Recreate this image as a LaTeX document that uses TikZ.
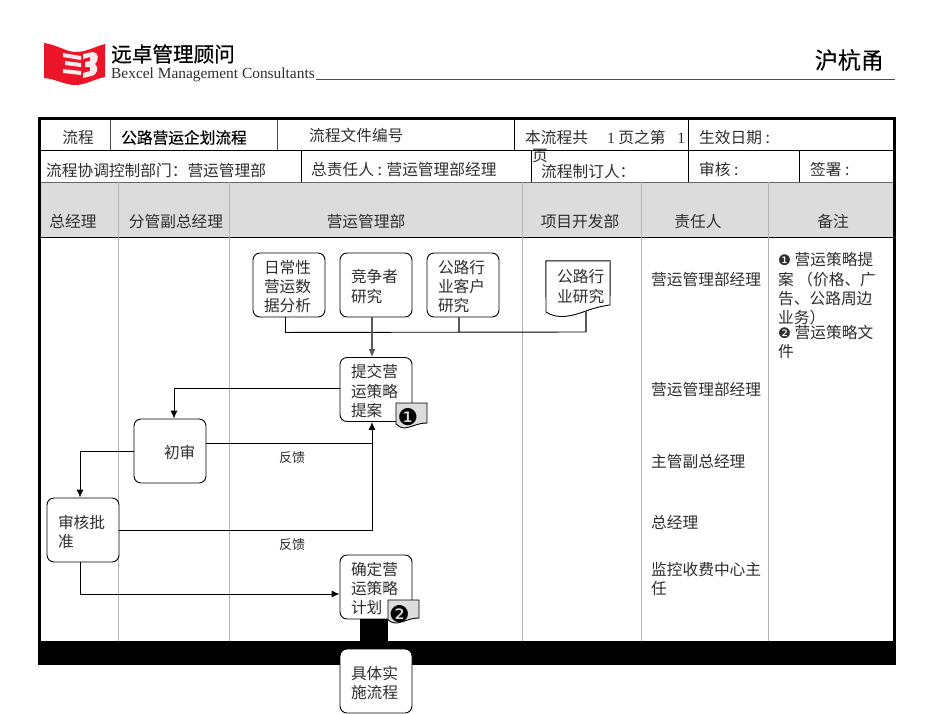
\documentclass[tikz,border=0pt]{standalone}
\usepackage{fontspec}
\setmainfont{Noto Sans CJK SC}
\newfontfamily\latinfont{Liberation Serif}
\newfontfamily\symfont{DejaVu Sans}
\newfontfamily\cnheavy[FakeBold=0.35]{Noto Sans CJK SC}
\newfontfamily\cnlogo[FakeBold=0.6]{Noto Sans CJK SC}
\newfontfamily\cnmedium[FakeBold=0.15]{Noto Sans CJK SC}
\usepackage{tikz}
\usetikzlibrary{calc,positioning,arrows.meta}
\definecolor{headgray}{HTML}{DCDCDC}
\definecolor{rulegray}{HTML}{B4B4B4}
\definecolor{inkgray}{HTML}{2E2E2E}
\definecolor{logored}{HTML}{EB1428}
\newcommand{\cnsize}{\fontsize{15.7}{19.3}\selectfont}
\tikzset{
    >={Latex[length=8pt,width=7pt]},
    cell/.style={
        inner sep=0pt,
        anchor=west,
        yshift=-0.5pt,
        text=inkgray,
        font=\cnsize
    },
    cellmid/.style={
        cell,
        anchor=center
    },
    flowbox/.style={
        rectangle,
        rounded corners=7pt,
        draw=black,
        fill=white,
        line width=0.9pt,
        minimum width=72pt,
        minimum height=64pt,
        inner xsep=9pt,
        inner ysep=0pt,
        text width=54pt,
        align=left,
        text=inkgray,
        font=\cnsize,
        execute at begin node=\rule{0pt}{16.6pt}\hspace{2pt}
    },
    flow/.style={draw=black, line width=0.9pt},
    flowgray/.style={draw=black!65, line width=1.1pt},
    column/.style={draw=rulegray, line width=0.9pt},
    rowline/.style={draw=black, line width=0.9pt},
    badge/.style={inner sep=0pt, font=\symfont\fontsize{23}{23}\selectfont}
}

\begin{document}
\begin{tikzpicture}[x=1pt,y=-1pt]
    \useasboundingbox (0,0) rectangle (950,713);
    \fill[white] (0,0) rectangle (950,713);

    % logo
    \fill[logored] (44,43) .. controls (58,45) and (66,52) .. (76,52)
        .. controls (86,52) and (94,47) .. (105,44) -- (105,77)
        .. controls (94,79) and (86,85) .. (75,85)
        .. controls (65,85) and (56,79) .. (44,78) -- cycle;
    \fill[white!92!red] (63,53) -- (81,56) -- (81,60) -- (63,57) -- cycle;
    \fill[white!92!red] (65,61) -- (81,63) -- (81,67) -- (65,65) -- cycle;
    \fill[white!92!red] (63,69) -- (81,71) -- (81,75) -- (63,73) -- cycle;
    \fill[white!92!red] (83,54) -- (93,52) .. controls (99,52) and (99,61) .. (95,64)
        .. controls (99,67) and (98,75) .. (91,76) -- (83,78) -- (83,73)
        -- (90,71) -- (90,67) -- (85,67) -- (85,62) -- (90,61) -- (90,57) -- (83,59) -- cycle;
    \node[inner sep=0pt,anchor=west,font=\cnlogo\fontsize{20.6}{21}\selectfont] (logocn) at (111,54) {远卓管理顾问};
    \node[inner sep=0pt,anchor=west,text=inkgray,font=\latinfont\fontsize{15.4}{16}\selectfont] (logoen) at (111,75) {Bexcel Management Consultants};
    \node[inner sep=0pt,anchor=east,font=\cnmedium\fontsize{23}{24}\selectfont] (route) at (884,60) {沪杭甬};
    \draw[draw=black!70,line width=1pt] (316,79) -- (895,79);

    % table head
    \fill[headgray] (40,182) rectangle (894,237);
    \draw[rowline] (40,150.5) -- (894,150.5);
    \draw[draw=black!60,line width=1pt] (40,182) -- (894,182);
    \draw[rowline] (40,237) -- (894,237);
    \draw[draw=black!70,line width=0.9pt] (110,119) -- (110,150);
    \draw[draw=black!70,line width=0.9pt] (277,119) -- (277,150);
    \draw[rowline] (514,119) -- (514,150);
    \draw[rowline] (688,119) -- (688,182);
    \draw[rowline] (301,150) -- (301,182);
    \draw[rowline] (531,150) -- (531,182);
    \draw[rowline] (799,150) -- (799,182);
    \draw[column] (118.5,182) -- (118.5,641);
    \draw[column] (229.5,182) -- (229.5,641);
    \draw[column] (522.5,182) -- (522.5,641);
    \draw[column] (641.5,182) -- (641.5,641);
    \draw[column] (768.5,182) -- (768.5,641);

    \node[cellmid] (tproc) at (78,137) {流程};
    \node[cell,text=black,font=\cnheavy\cnsize] (tname) at (121,137) {公路营运企划流程};
    \node[cell] (tfile) at (309,135) {流程文件编号};
    \node[cell] (tpage) at (525,137) {本流程共\hspace{19pt}{\latinfont 1} 页之第\hspace{12pt}{\latinfont 1}};
    \node[cell] (tdate) at (699,137) {生效日期 :};
    \node[cell] (tdept) at (46,170) {流程协调控制部门：营运管理部};
    \node[cell] (towner) at (311,169) {总责任人 : 营运管理部经理};
    \node[cell] (tpageb) at (532,155) {页};
    \node[cell] (tmaker) at (541,171) {流程制订人：};
    \node[cell] (tcheck) at (699,169) {审核 :};
    \node[cell] (tsign) at (810,169) {签署 :};

    \node[cellmid] (hgm) at (73,221) {总经理};
    \node[cellmid] (hvp) at (176,221) {分管副总经理};
    \node[cellmid] (hops) at (366,221) {营运管理部};
    \node[cellmid] (hdev) at (580,221) {项目开发部};
    \node[cellmid] (hduty) at (698,221) {责任人};
    \node[cellmid] (hnote) at (833,221) {备注};

    % flow boxes
    \node[flowbox] (daily) at (289,285) {日常性\\\hspace*{2pt}营运数\\\hspace*{2pt}据分析};
    \node[flowbox] (rival) at (376,285) {竞争者\\\hspace*{2pt}研究};
    \node[flowbox] (client) at (463,285) {公路行\\\hspace*{2pt}业客户\\\hspace*{2pt}研究};
    \node[inner sep=0pt,minimum width=64pt,minimum height=56pt] (study) at (578,289) {};
    \node[flowbox] (submit) at (376,389.5) {提交营\\\hspace*{2pt}运策略\\\hspace*{2pt}提案};
    \node[flowbox] (first) at (170,451) {\hspace*{19pt}初审};
    \node[flowbox] (approve) at (83,530) {审核批\\\hspace*{2pt}准};
    \node[flowbox] (plan) at (376,587) {确定营\\\hspace*{2pt}运策略\\\hspace*{2pt}计划};

    % document shape
    \draw[draw=black,fill=white,line width=0.9pt] (study.north west) -- (study.north east)
        -- (610,305) .. controls (602,306) and (594,308) .. (586,311)
        .. controls (572,316) and (558,320) .. (546,312) -- cycle;
    \node[cell,align=left] (studytxt) at (557,286) {公路行\\业研究};

    % connectors
    \draw[flow] ([xshift=-4pt]daily.south) -- ++(0,15) coordinate (busleft);
    \draw[flowgray] ([xshift=-4pt]client.south) -- ++(0,15);
    \draw[flowgray] (586,311) -- (586,332) coordinate (busright);
    \draw[flow] (busleft) -- (busright);
    \draw[flowgray,->] ([xshift=-4pt]rival.south) -- ([xshift=-4pt]submit.north);
    \draw[flow,->] (submit.west |- 0,388) -| ([xshift=4pt]first.north);
    \draw[flow,->] ([yshift=8pt]first.east) -| ([xshift=-4pt]submit.south);
    \draw[flow] (approve.east) -| ([xshift=-4pt,yshift=-10pt]submit.south);
    \draw[flow,->] (first.west) -| ([xshift=-3pt]approve.north);
    \draw[flow,->] ([xshift=-3pt]approve.south) |- ([yshift=-7pt]plan.west);
    \node[cellmid,font=\fontsize{13}{14}\selectfont] (backa) at (292,457) {反馈};
    \node[cellmid,font=\fontsize{13}{14}\selectfont] (backb) at (292,544) {反馈};

    % small documents
    \draw[draw=black,fill=headgray,line width=0.9pt] (396,403) -- (427,403) -- (427,423)
        .. controls (418,423) and (412,427) .. (405,428) .. controls (401,428) and (398,426) .. (396,424) -- cycle;
    \node[badge] (markone) at (408,417.5) {❶};

    % outer frame and bottom bar
    \fill[black] (38,641) rectangle (896,665);
    \draw[draw=black,line width=3pt] (39.5,118.5) rectangle (894.5,663.5);

    % next flow
    \draw[draw=black,line width=28pt] ([xshift=-2pt]plan.south) -- (374,649) coordinate (planend);
    \node[flowbox] (next) at (376,681) {具体实\\\hspace*{2pt}施流程};
    \draw[draw=black,fill=headgray,line width=0.9pt] (388,600) -- (419,600) -- (419,618)
        .. controls (410,618) and (404,622) .. (397,623) .. controls (393,623) and (390,622) .. (388,620) -- cycle;
    \node[badge] (marktwo) at (399.5,614) {❷};

    % duties
    \node[cell] (dutya) at (651,279) {营运管理部经理};
    \node[cell] (dutyb) at (651,389) {营运管理部经理};
    \node[cell] (dutyc) at (651,461) {主管副总经理};
    \node[cell] (dutyd) at (651,522) {总经理};
    \node[cell,align=left] (dutye) at (651,578.5) {监控收费中心主\\任};

    % notes
    \node[cell,align=left] (notea) at (778,288.5) {{\symfont\fontsize{14.5}{12}\selectfont ❶} 营运策略提\\案 （价格、广\\告、公路周边\\业务）};
    \node[cell,align=left] (noteb) at (778,341.5) {{\symfont\fontsize{14.5}{12}\selectfont ❷} 营运策略文\\件};
\end{tikzpicture}
\end{document}
